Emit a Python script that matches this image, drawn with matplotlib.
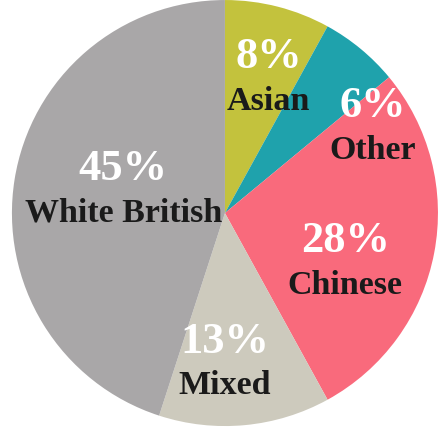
import matplotlib.pyplot as plt
import numpy as np

# ethnic make-up, clockwise from 12 o'clock
groups = ['Asian', 'Other', 'Chinese', 'Mixed', 'White British']
shares = [8, 6, 28, 13, 45]
colours = ['#c3c23d', '#1fa2ac', '#f96a7c', '#cdcabd', '#a9a7a8']

# label placement (angle in degrees, radius as fraction of pie radius)
label_pos = [(71.8, 0.655), (29.5, 0.798), (-23.2, 0.615), (-90, 0.714), (168.6, 0.487)]

fig = plt.figure(figsize=(4.42, 4.28), dpi=100)
ax = fig.add_axes([0, 0, 1, 1])

ax.pie(shares, colors=colours, startangle=90, counterclock=False,
       radius=1.0, wedgeprops=dict(linewidth=0))

for name, pct, (ang, r) in zip(groups, shares, label_pos):
    x = r * np.cos(np.radians(ang))
    y = r * np.sin(np.radians(ang))
    ax.text(x, y + 0.015, f'{pct}%', ha='center', va='bottom', color='white',
            fontsize=32, fontweight='bold', family='Liberation Serif')
    ax.text(x, y - 0.025, name, ha='center', va='top', color='#1a1a1a',
            fontsize=24.5, fontweight='bold', family='Liberation Serif')

ax.set_xlim(-1.056, 1.019)
ax.set_ylim(-1.009, 1.0)
ax.set_aspect('equal')
ax.axis('off')

fig.savefig('out.png', dpi=100, facecolor='white')
